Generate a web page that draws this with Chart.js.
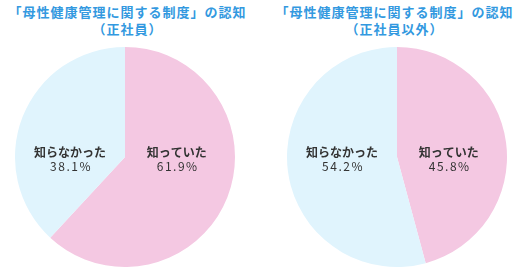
<!DOCTYPE html>
<html>
<head>
<meta charset="utf-8">
<script src="https://cdn.jsdelivr.net/npm/chart.js@4"></script>
<style>
  body { margin: 0; background: #fff; width: 522px; height: 268px; position: relative; overflow: hidden; }
  .title { position: absolute; top: 3px; width: 261px; text-align: center; color: #3399e0;
    font: bold 13px "Noto Sans CJK JP", sans-serif; line-height: 17px; letter-spacing: 1px; }
  .box { position: absolute; top: 47px; width: 220px; height: 220px; }
</style>
</head>
<body>
<div class="title" style="left:-3px">「母性健康管理に関する制度」の認知<br>（正社員）</div>
<div class="title" style="left:264px">「母性健康管理に関する制度」の認知<br>（正社員以外）</div>
<div class="box" style="left:15px"><canvas id="pie1"></canvas></div>
<div class="box" style="left:287px"><canvas id="pie2"></canvas></div>
<script>
const labels = ["知っていた", "知らなかった"];
const regularValues = [61.9, 38.1];
const nonRegularValues = [45.8, 54.2];
const sliceColors = ["#f4c8e2", "#e0f4fd"];

// draw the label + percent inside each slice, left or right of the centre
const sliceLabels = {
  id: "sliceLabels",
  afterDatasetsDraw(chart) {
    const ctx = chart.ctx;
    const values = chart.data.datasets[0].data;
    chart.getDatasetMeta(0).data.forEach((arc, i) => {
      const mid = (arc.startAngle + arc.endAngle) / 2;
      const side = Math.cos(mid) >= 0 ? 1 : -1;
      const x = arc.x + side * (side > 0 ? 0.47 : 0.5) * arc.outerRadius;
      const y = arc.y;
      ctx.save();
      ctx.fillStyle = "#333";
      ctx.textAlign = "center";
      ctx.textBaseline = "middle";
      ctx.font = "bold 12px 'Noto Sans CJK JP', sans-serif";
      ctx.fillText(chart.data.labels[i], x, y - 5);
      ctx.font = "12px 'Noto Sans CJK JP', sans-serif";
      ctx.letterSpacing = "1.5px";
      ctx.fillText(values[i].toFixed(1) + "%", x + 1, y + 9);
      ctx.restore();
    });
  },
};

const makePie = (id, values) => new Chart(document.getElementById(id), {
  type: "pie",
  plugins: [sliceLabels],
  data: {
    labels: labels,
    datasets: [{ data: values, backgroundColor: sliceColors, borderWidth: 0 }],
  },
  options: {
    responsive: true,
    maintainAspectRatio: false,
    animation: false,
    layout: { padding: 0 },
    plugins: { legend: { display: false }, tooltip: { enabled: false } },
  },
});

makePie("pie1", regularValues);
makePie("pie2", nonRegularValues);
</script>
</body>
</html>
